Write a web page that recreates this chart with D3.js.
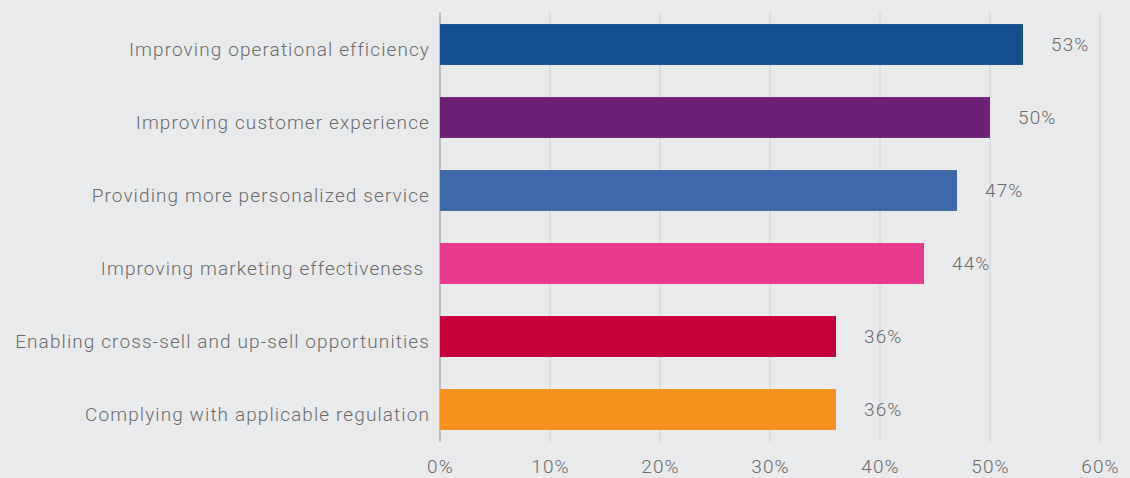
<!DOCTYPE html>
<html>
<head>
<meta charset="utf-8">
<script src="https://cdn.jsdelivr.net/npm/d3@7"></script>
<style>
  html, body { margin: 0; padding: 0; background: #e9eaec; }
  #chart { width: 1130px; height: 478px; }
  text { font-family: Roboto, "Noto Sans", sans-serif; font-weight: 300; fill: #6b6b6b; white-space: pre; letter-spacing: 1.1px; }
</style>
</head>
<body>
<div id="chart"></div>
<script>
let categories = [
    "Improving operational efficiency",
    "Improving customer experience",
    "Providing more personalized service",
    "Improving marketing effectiveness ",
    "Enabling cross-sell and up-sell opportunities",
    "Complying with applicable regulation"
];
let values = [53, 50, 47, 44, 36, 36];
let colors = ["#134e8e", "#6c2174", "#3c69a7", "#e9398f", "#c8003b", "#f7901d"];
let ticks = [0, 10, 20, 30, 40, 50, 60];

let width = 1130, height = 478;

let svg = d3.select("#chart").append("svg")
    .attr("width", width)
    .attr("height", height);

let x = d3.scaleLinear().domain([0, 60]).range([440, 1100]);
let y = d3.scaleBand().domain(categories).range([8, 446]).paddingInner(0.44).paddingOuter(0.22);

// grid lines
svg.selectAll(".grid").data(ticks).enter()
    .append("line")
    .attr("class", "grid")
    .attr("x1", d => x(d)).attr("x2", d => x(d))
    .attr("y1", 12).attr("y2", 442)
    .attr("stroke", d => d == 0 ? "#bdbdbd" : "#cfd0d2")
    .attr("stroke-width", d => d == 0 ? 2 : 1);

// bars
svg.selectAll(".bar").data(values).enter()
    .append("rect")
    .attr("class", "bar")
    .attr("x", x(0))
    .attr("y", (d, i) => y(categories[i]))
    .attr("width", d => x(d) - x(0))
    .attr("height", y.bandwidth())
    .attr("fill", (d, i) => colors[i]);

// value labels
svg.selectAll(".val").data(values).enter()
    .append("text")
    .attr("class", "val")
    .attr("x", d => x(d) + 28)
    .attr("y", (d, i) => y(categories[i]) + y.bandwidth() / 2)
    .attr("dy", "0.36em")
    .attr("font-size", 19)
    .text(d => d + "%");

// category labels
let yAxis = d3.axisLeft(y).tickSize(0).tickPadding(10);
let ya = svg.append("g").attr("transform", "translate(440,5)").call(yAxis);
ya.attr("font-family", null);
ya.select(".domain").remove();
ya.selectAll("text")
    .attr("font-size", 19)
    .attr("fill", "#6b6b6b");

// x tick labels
let xAxis = d3.axisBottom(x).tickValues(ticks).tickFormat(d => d + "%").tickSize(0).tickPadding(0);
let xa = svg.append("g").attr("transform", "translate(0,459)").call(xAxis);
xa.attr("font-family", null);
xa.select(".domain").remove();
xa.selectAll("text")
    .attr("font-size", 19)
    .attr("fill", "#6b6b6b");
</script>
</body>
</html>
